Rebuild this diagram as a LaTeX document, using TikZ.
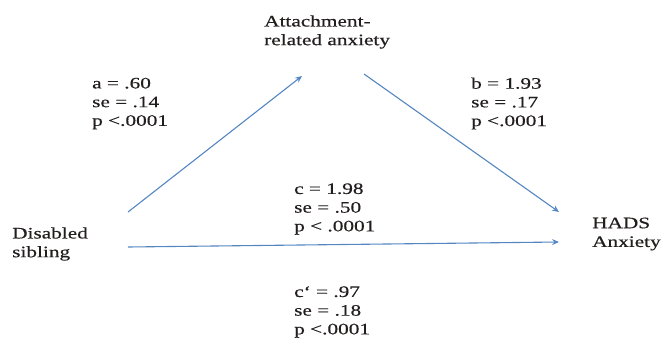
\documentclass[tikz,border=0pt]{standalone}
\usepackage{fontspec}
\setmainfont{Liberation Serif}[FakeStretch=1.33,FakeBold=0.4]
\usetikzlibrary{arrows.meta}
\definecolor{arrowblue}{RGB}{84,134,194}
\definecolor{txt}{RGB}{35,30,30}
\begin{document}
\begin{tikzpicture}[x=1pt,y=-1pt,
  lbl/.style={align=left,inner sep=0pt,anchor=west,text=txt,font=\fontsize{16}{18.7}\selectfont},
  arr/.style={draw=arrowblue,line width=1.1pt,-{Stealth[length=7pt,width=6pt,inset=2.5pt]}}]
\useasboundingbox (0,0) rectangle (668,340);
\node[lbl] (att) at (264,32) {Attachment-\\related anxiety};
\node[lbl] (dis) at (12,244) {Disabled\\sibling};
\node[lbl] (hads) at (592,234) {HADS\\Anxiety};
\node[lbl] (la) at (92,103.5) {a = .60\\se = .14\\p <.0001};
\node[lbl] (lb) at (471,103.5) {b = 1.93\\se = .17\\p <.0001};
\node[lbl] (lc) at (294,209) {c = 1.98\\se = .50\\p < .0001};
\node[lbl] (lcp) at (294,312) {c‘ = .97\\se = .18\\p <.0001};
\coordinate (a0) at (128,212);
\coordinate (a1) at (302,76);
\coordinate (b0) at (364,74);
\coordinate (b1) at (559,212);
\coordinate (c0) at (128,247);
\coordinate (c1) at (559,242);
\draw[arr] (a0) -- (a1);
\draw[arr] (b0) -- (b1);
\draw[arr] (c0) -- (c1);
\end{tikzpicture}
\end{document}
